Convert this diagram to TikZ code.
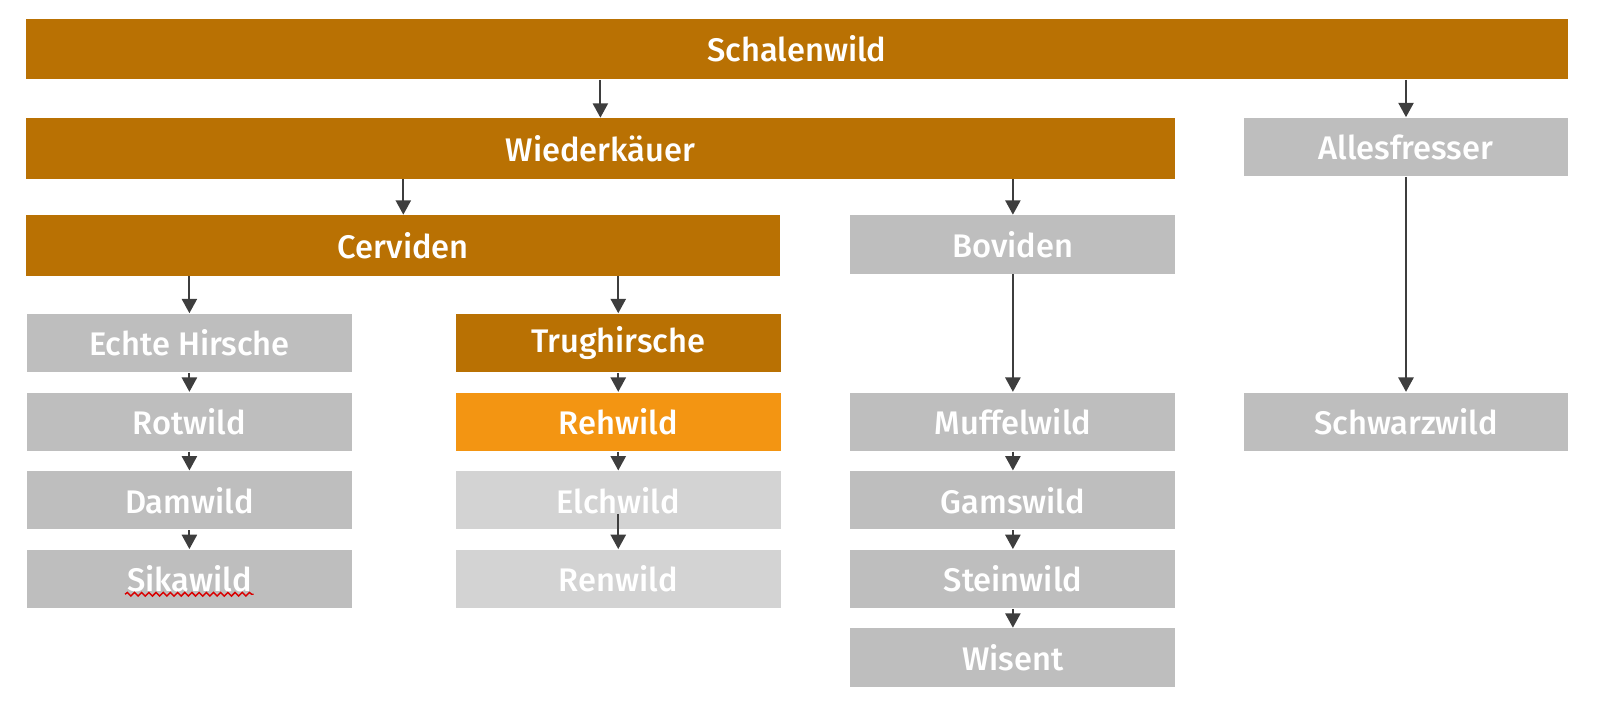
\documentclass[tikz,border=0pt]{standalone}
\usepackage{fontspec}
\setmainfont{Fira Sans}[BoldFont={Fira Sans Medium}]
\usetikzlibrary{arrows.meta,decorations.pathmorphing}
\definecolor{wildbraun}{RGB}{185,113,3}
\definecolor{wildorange}{RGB}{243,149,18}
\definecolor{wildgrau}{RGB}{190,190,190}
\definecolor{wildhell}{RGB}{211,211,211}
\definecolor{pfeilgrau}{RGB}{62,62,62}

\begin{document}
\begin{tikzpicture}[x=0.01cm,y=-0.01cm,
    box/.style={rectangle,inner sep=0pt,minimum width=3.18cm,minimum height=0.57cm,
      text=white,font=\bfseries\fontsize{9.1}{10}\selectfont},
    braun/.style={box,fill=wildbraun,minimum height=0.59cm},
    grau/.style={box,fill=wildgrau},
    hell/.style={box,fill=wildhell},
    pfeil/.style={draw=pfeilgrau,line width=0.6pt,-{Triangle[width=4.2pt,length=4pt]}}]
  \useasboundingbox (0,0) rectangle (1567,704);
  \node [braun,minimum width=15.09cm] (schalen) at (780.5,48) {Schalenwild};
  \node [braun,minimum width=11.24cm] (wieder) at (588,145.5) {Wiederkäuer};
  \node [grau] (alles) at (1377,144) {Allesfresser};
  \node [braun,minimum width=7.38cm] (cerv) at (395,240.5) {Cerviden};
  \node [grau] (bov) at (992,239.5) {Boviden};
  \node [grau] (echte) at (185.5,336) {Echte Hirsche};
  \node [braun,minimum height=0.57cm] (trug) at (605.5,336) {Trughirsche};
  \node [grau] (rot) at (185.5,413) {Rotwild};
  \node [grau] (dam) at (185.5,490) {Damwild};
  \node [grau] (sika) at (185.5,567) {Sikawild};
  \node [box,fill=wildorange] (reh) at (605.5,413) {Rehwild};
  \node [hell] (elch) at (605.5,490) {Elchwild};
  \node [hell] (ren) at (605.5,567) {Renwild};
  \node [grau] (muffel) at (992,413) {Muffelwild};
  \node [grau] (gams) at (992,490) {Gamswild};
  \node [grau] (stein) at (992,567) {Steinwild};
  \node [grau] (wisent) at (992,644) {Wisent};
  \node [grau] (schwarz) at (1377,413) {Schwarzwild};

  \draw [pfeil] (schalen.south -| wieder) -- (wieder.north);
  \draw [pfeil] (schalen.south -| alles) -- (alles.north);
  \draw [pfeil] (wieder.south -| cerv) -- (cerv.north);
  \draw [pfeil] (wieder.south -| bov) -- (bov.north);
  \draw [pfeil] (cerv.south -| echte) -- (echte.north);
  \draw [pfeil] (cerv.south -| trug) -- (trug.north);
  \foreach \a/\b in {echte/rot,rot/dam,dam/sika,trug/reh,reh/elch,bov/muffel,
      muffel/gams,gams/stein,stein/wisent,alles/schwarz}
    \draw [pfeil] (\a) -- (\b);
  \draw [pfeil] ([yshift=0.16cm]elch.south) -- (ren.north);
  \draw [red!85!black,line width=0.4pt,decorate,
    decoration={snake,amplitude=0.5pt,segment length=2pt}]
    ([shift={(-63,15)}]sika.center) -- ([shift={(63,15)}]sika.center);
\end{tikzpicture}
\end{document}
